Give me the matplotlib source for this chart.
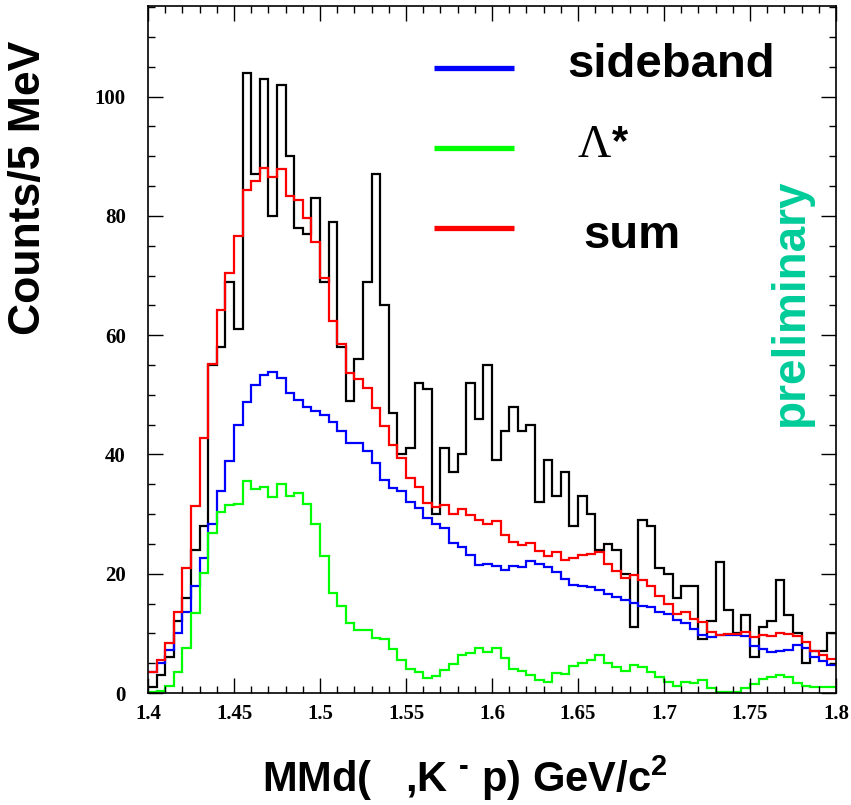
import matplotlib
matplotlib.use("Agg")
import matplotlib.pyplot as plt
from matplotlib.lines import Line2D
from matplotlib.ticker import MultipleLocator
import numpy as np

plt.rcParams["mathtext.fontset"] = "custom"
plt.rcParams["mathtext.rm"] = "Liberation Sans:bold"
plt.rcParams["mathtext.bf"] = "Liberation Sans:bold"
plt.rcParams["mathtext.it"] = "Liberation Sans:bold"
plt.rcParams["mathtext.default"] = "bf"

# 80 bins of 5 MeV between 1.4 and 1.8 GeV/c^2
bin_lo, bin_hi, n_bins = 1.4, 1.8, 80

data_counts = [
    1, 3, 6, 12, 16, 24, 28, 55, 58, 69,
    61, 104, 87, 103, 80, 102, 90, 78, 77, 83,
    69, 79, 58, 49, 56, 69, 87, 65, 47, 40,
    41, 52, 51, 30, 41, 37, 40, 52, 46, 55,
    39, 44, 48, 44, 45, 32, 39, 33, 37, 28,
    33, 30, 24, 25, 24, 20, 11, 29, 28, 21,
    20, 16, 18, 18, 9, 12, 22, 14, 10, 13,
    6, 11, 12, 19, 13, 10, 5, 7, 7, 10,
]

sideband = [
    3.5, 5.1, 7.2, 10.0, 13.5, 17.9, 22.6, 28.3, 33.9, 38.9,
    44.9, 48.8, 51.6, 53.4, 53.8, 52.9, 50.3, 49.1, 47.9, 47.3,
    46.6, 45.5, 44.0, 42.0, 42.0, 40.5, 38.6, 35.8, 34.3, 33.8,
    32.1, 31.0, 29.3, 28.3, 27.6, 25.1, 24.5, 23.1, 21.5, 21.6,
    21.3, 20.6, 21.3, 21.1, 22.2, 21.6, 21.2, 20.3, 19.1, 18.1,
    18.0, 17.7, 17.2, 16.6, 16.1, 15.6, 15.1, 14.6, 14.4, 13.5,
    13.2, 12.2, 11.8, 10.7, 9.8, 9.4, 9.7, 9.8, 9.7, 9.5,
    7.9, 7.4, 6.8, 7.0, 7.2, 8.0, 7.5, 6.0, 5.4, 4.7,
]

lambda_star = [
    0.1, 0.4, 1.2, 3.5, 7.5, 13.4, 20.2, 26.8, 30.3, 31.5,
    31.7, 35.6, 34.2, 34.6, 32.8, 35.0, 33.1, 33.5, 31.7, 28.4,
    23.0, 16.8, 14.6, 11.7, 10.6, 10.6, 9.2, 9.0, 7.3, 5.6,
    4.0, 3.6, 2.5, 2.9, 3.9, 4.9, 6.3, 6.7, 7.5, 6.8,
    7.5, 5.9, 4.0, 3.7, 3.0, 2.2, 1.8, 3.3, 3.2, 4.6,
    5.1, 5.6, 6.4, 5.1, 4.3, 3.7, 4.7, 4.3, 3.5, 2.7,
    1.8, 1.1, 1.8, 1.7, 2.1, 0.8, 0.1, 0.1, 0.2, 0.8,
    1.5, 2.3, 2.7, 3.0, 2.7, 1.6, 1.1, 1.0, 1.0, 1.0,
]

x_tick_values = [1.4, 1.45, 1.5, 1.55, 1.6, 1.65, 1.7, 1.75, 1.8]
x_tick_labels = ["1.4", "1.45", "1.5", "1.55", "1.6", "1.65", "1.7", "1.75", "1.8"]
y_tick_values = [0, 20, 40, 60, 80, 100]
y_tick_labels = ["0", "20", "40", "60", "80", "100"]

legend_labels = ["sideband", "\u039b", "sum"]
legend_colors = ["#0000ff", "#00ff00", "#ff0000"]

edges = np.linspace(bin_lo, bin_hi, n_bins + 1)
total = np.array(sideband) + np.array(lambda_star)

W, H = 851, 805
fig = plt.figure(figsize=(W / 100, H / 100), dpi=100)
fig.patch.set_facecolor("white")


def fx(px):
    return px / W


def fy(py):
    return 1 - py / H


ax = fig.add_axes([fx(148), fy(693), (836 - 148) / W, (693 - 6) / H])
ax.set_xlim(bin_lo, bin_hi)
ax.set_ylim(0, 115.2)

lw = 1.6
ax.stairs(data_counts, edges, color="black", lw=lw, baseline=None)
ax.stairs(sideband, edges, color=legend_colors[0], lw=lw, baseline=None)
ax.stairs(lambda_star, edges, color=legend_colors[1], lw=lw, baseline=None)
ax.stairs(total, edges, color=legend_colors[2], lw=lw, baseline=None)

tick_font = dict(family="Liberation Serif", weight="bold", size=15)
ax.set_xticks(x_tick_values)
ax.set_xticklabels(x_tick_labels, fontdict=tick_font)
ax.set_yticks(y_tick_values)
ax.set_yticklabels(y_tick_labels, fontdict=tick_font)
ax.xaxis.set_minor_locator(MultipleLocator(0.01))
ax.yaxis.set_minor_locator(MultipleLocator(5))
ax.tick_params(which="both", direction="in", top=True, right=True, width=1.0)
ax.tick_params(which="major", length=10.5)
ax.tick_params(which="minor", length=5.3)
ax.tick_params(axis="x", which="major", pad=8)
ax.tick_params(axis="y", which="major", pad=16)
for sp in ax.spines.values():
    sp.set_linewidth(1.2)

# legend: coloured line segments with large bold labels
for yy, col in zip([68, 148, 228], legend_colors):
    fig.add_artist(Line2D([fx(434), fx(514)], [fy(yy), fy(yy)],
                          transform=fig.transFigure, color=col, lw=3.8,
                          solid_capstyle="butt"))

big = dict(weight="bold", family=["Liberation Sans", "DejaVu Sans"])
fig.text(fx(567), fy(77), legend_labels[0], fontsize=34, va="baseline", ha="left", **big)
fig.text(fx(578), fy(157), legend_labels[1], fontsize=33, va="baseline", ha="left",
         family="Liberation Serif")
fig.text(fx(612), fy(154), "*", fontsize=30, va="baseline", ha="left", **big)
fig.text(fx(583), fy(248), legend_labels[2], fontsize=34, va="baseline", ha="left", **big)

fig.text(fx(791), fy(302), "preliminary", rotation=90, color="#00cc99",
         fontsize=33, ha="center", va="center", **big)

fig.text(fx(29), fy(188), "Counts/5 MeV", rotation=90, fontsize=32,
         ha="center", va="center", **big)
fig.text(fx(262), fy(792), "MMd(   ,K $^{\u2010}$ p) GeV/c$^{2}$", fontsize=30,
         ha="left", va="baseline", **big)

fig.savefig("out.png", dpi=100, facecolor="white")
